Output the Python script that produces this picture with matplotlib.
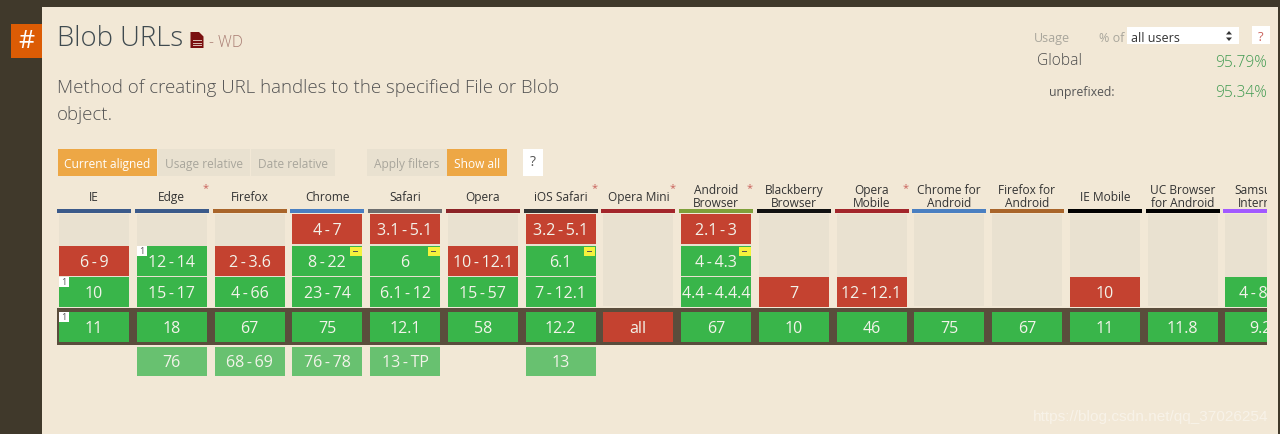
import matplotlib
matplotlib.use("Agg")
import matplotlib.pyplot as plt
from matplotlib.patches import Rectangle, Polygon

# browser columns
browsers = ["IE", "Edge", "Firefox", "Chrome", "Safari", "Opera", "iOS Safari", "Opera Mini",
            "Android\nBrowser", "Blackberry\nBrowser", "Opera\nMobile", "Chrome for\nAndroid",
            "Firefox for\nAndroid", "IE Mobile", "UC Browser\nfor Android", "Samsung\nInternet"]
header_colors = ["#3b5a8a", "#3b5a8a", "#a9652a", "#4a7fc1", "#6e6e6e", "#8c2326", "#333333", "#a3262b",
                 "#7fa03a", "#111111", "#a3262b", "#4a7fc1", "#a9652a", "#000000", "#000000", "#a259ff"]
starred = ["Edge", "iOS Safari", "Opera Mini", "Android\nBrowser", "Opera\nMobile"]

# version rows, top to bottom, "" is no cell
row_old = ["", "", "", "4-7", "3.1-5.1", "", "3.2-5.1", "", "2.1-3", "", "", "", "", "", "", ""]
row_prev = ["6-9", "12-14", "2-3.6", "8-22", "6", "10-12.1", "6.1", "", "4-4.3", "", "", "", "", "", "", ""]
row_recent = ["10", "15-17", "4-66", "23-74", "6.1-12", "15-57", "7-12.1", "", "4.4-4.4.4", "7", "12-12.1",
              "", "", "10", "", "4-8.2"]
row_current = ["11", "18", "67", "75", "12.1", "58", "12.2", "all", "67", "10", "46", "75", "67", "11", "11.8", "9.2"]
row_future = ["", "76", "68-69", "76-78", "13-TP", "", "13", "", "", "", "", "", "", "", "", ""]

# support per cell: n = no, y = yes, f = yes in a future version
status_old = "...nn.n.n......."
status_prev = "nynyyny.y......."
status_recent = "yyyyyyy.ynn..n.y"
status_current = "yyyyyyynyyyyyyyy"
status_future = ".ffff.f........."

# notes: (column, row) with a white "1" or a yellow "-" flag
note_one = [(0, 2), (1, 1), (0, 3)]
note_partial = [(3, 1), (4, 1), (6, 1), (8, 1)]

rows = [row_old, row_prev, row_recent, row_current, row_future]
statuses = [status_old, status_prev, status_recent, status_current, status_future]
row_tops = [215, 247, 278, 313, 347.5]
row_height = 29.5

col_step = 77.75
col_left = 59
col_width = 70

BG = "#f2e8d6"
DARK = "#40392b"
TAN = "#e9e1d0"
RED = "#c44230"
GREEN = "#39b54a"
LIGHT_GREEN = "#68c170"
BAND = "#5a4d3c"
ORANGE = "#eda745"
cell_colors = {"n": RED, "y": GREEN, "f": LIGHT_GREEN}

FONT = ["Open Sans", "DejaVu Sans"]


def px(size):
    return size * 0.72


fig = plt.figure(figsize=(12.8, 4.35), dpi=100, facecolor=DARK)
ax = fig.add_axes([0, 0, 1, 1])
ax.set_xlim(0, 1280)
ax.set_ylim(435, 0)
ax.axis("off")


def box(x0, y0, x1, y1, color, z=1, **kw):
    p = Rectangle((x0, y0), x1 - x0, y1 - y0, facecolor=color, edgecolor="none", zorder=z, **kw)
    ax.add_patch(p)
    return p


def label(x, y, s, size, color, ha="left", weight="normal", z=5, **kw):
    # Open Sans sits a bit high with va=center
    return ax.text(x, y + 1.2, s, fontsize=px(size), color=color, ha=ha, va="center", family=FONT,
                   fontweight=weight, zorder=z, **kw)


# page panel
box(42, 7.5, 1277.5, 435, BG, 0)
box(11, 25, 42, 59, "#dc5c05")
label(26, 40.5, "#", 25, "white", ha="center")

# title block
label(57, 38, "Blob URLs", 27.5, "#3f4a4f", weight="light")
ax.add_patch(Polygon([(190.5, 33), (199, 33), (203.5, 37.5), (203.5, 49), (190.5, 49)],
                     closed=True, facecolor="#7a1010", edgecolor="none", zorder=3))
for y in [41, 43.5, 46]:
    box(193, y, 201.5, y + 1, "#d9b9b0", 4)
label(209, 42, "- WD", 15.5, "#a87c72", weight="light")
label(57, 86.5, "Method of creating URL handles to the specified File or Blob", 18.7, "#545454", weight="light")
label(57, 114, "object.", 18.7, "#545454", weight="light")

# usage block
label(1034, 37, "Usage", 12.5, "#a9a69c")
label(1099, 37, "% of", 12.5, "#a9a69c")
box(1127, 28, 1239, 45, "white")
label(1131, 37, "all users", 12.5, "#333333")
ax.add_patch(Polygon([(1226, 35.5), (1232, 35.5), (1229, 32)], closed=True, facecolor="#333333", zorder=3))
ax.add_patch(Polygon([(1226, 38.5), (1232, 38.5), (1229, 42)], closed=True, facecolor="#333333", zorder=3))
box(1252, 27, 1270, 45, "white")
label(1261, 36.5, "?", 13, "#c9605a", ha="center")
label(1037, 60, "Global", 15.5, "#4a4a4a", weight="light")
label(1267, 62, "95.79%", 15.5, "#3f9a50", ha="right", weight="light")
label(1049, 91, "unprefixed:", 12.3, "#555555")
label(1267, 91.5, "95.34%", 15.5, "#3f9a50", ha="right", weight="light")

# filter buttons
box(57.5, 150, 157, 176.5, ORANGE)
label(107, 163, "Current aligned", 11.9, "white", ha="center")
box(158, 150, 250, 176.5, TAN)
label(204, 163, "Usage relative", 11.9, "#a9a69c", ha="center")
box(251, 150, 335, 176.5, TAN)
label(293, 163, "Date relative", 11.9, "#a9a69c", ha="center")
box(367, 150, 447, 176.5, TAN)
label(407, 163, "Apply filters", 11.9, "#a9a69c", ha="center")
box(447, 150, 506.5, 176.5, ORANGE)
label(477, 163, "Show all", 11.9, "white", ha="center")
box(523, 150, 543, 176.5, "white")
label(533, 161.5, "?", 14, "#555555", ha="center")

# everything in the table stops at the right edge of the scroll area
clip = Rectangle((42, 170), 1224.5, 230, transform=ax.transData)

# current version band
band = box(57, 309, 1300, 345.5, BAND, 1)
band.set_clip_path(clip)

for i, (name, color) in enumerate(zip(browsers, header_colors)):
    x0 = col_left + i * col_step
    mid = x0 + col_width / 2
    bar = box(x0 - 2, 210, x0 + col_width + 2, 214, color, 2)
    bar.set_clip_path(clip)
    bg = box(x0, 215, x0 + col_width, 307, TAN, 1)
    bg.set_clip_path(clip)
    t = ax.text(mid, 197.5, name, fontsize=px(11.9), color="#333333", ha="center", va="center",
                family=FONT, linespacing=1.0, zorder=5, clip_on=True)
    t.set_clip_path(clip)
    if name in starred:
        ax.text(x0 + col_width - 1, 189, "*", fontsize=px(11), color="#c9605a", ha="center", va="center",
                family=FONT, zorder=5)

    for row, stat, top in zip(rows, statuses, row_tops):
        ver = row[i]
        if not ver:
            continue
        cell = box(x0, top, x0 + col_width, top + row_height, cell_colors[stat[i]], 3)
        cell.set_clip_path(clip)
        t = label(mid, top + row_height / 2 - 0.2, ver.replace("-", "\u2009-\u2009"), 16, "#f3f3ea", ha="center",
                  clip_on=True)
        t.set_clip_path(clip)

for c, r in note_one:
    x0 = col_left + c * col_step
    top = row_tops[r]
    box(x0, top, x0 + 10, top + 10, "white", 6)
    label(x0 + 5, top + 3.5, "1", 9, "#555555", ha="center", z=7)

for c, r in note_partial:
    x0 = col_left + c * col_step
    top = row_tops[r]
    box(x0 + col_width - 12, top + 1, x0 + col_width - 0.5, top + 10, "#f4f23c", 6)
    box(x0 + col_width - 9, top + 4.5, x0 + col_width - 4, top + 6, "#555555", 7)

# watermark
ax.text(1033, 417, "https://blog.csdn.net/qq_37026254", fontsize=px(15.4), color="white", alpha=0.45,
        ha="left", va="center", family=["Liberation Sans"], zorder=8)

fig.savefig("out.png", dpi=100, facecolor=DARK)
